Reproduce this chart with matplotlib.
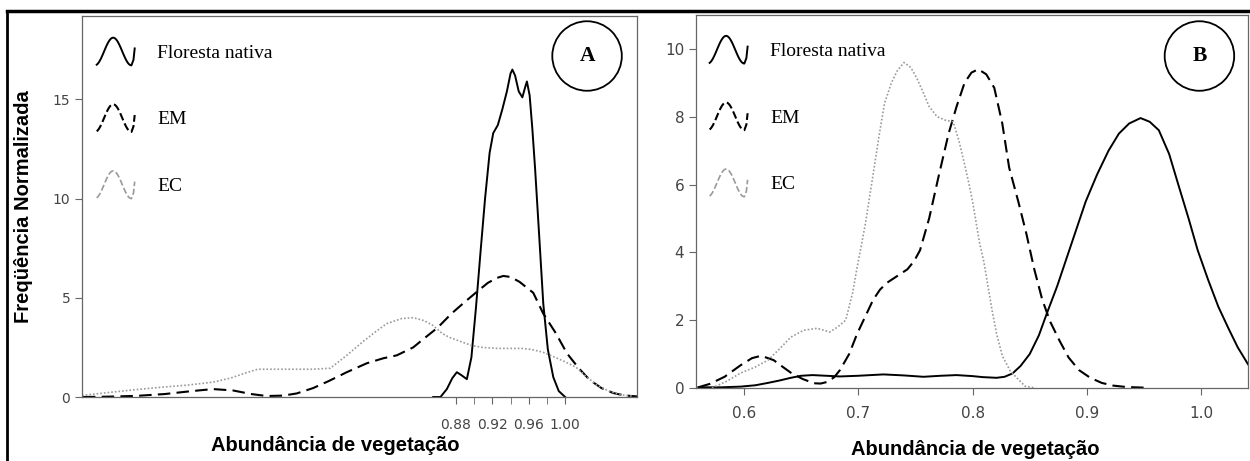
import numpy as np
import matplotlib.pyplot as plt
from matplotlib.lines import Line2D
from matplotlib.legend_handler import HandlerBase

# Painel A - densidades normalizadas
a_nat_x = [0.855, 0.863, 0.870, 0.876, 0.881, 0.886, 0.892, 0.897, 0.902, 0.907, 0.912, 0.917,
           0.921, 0.926, 0.931, 0.936, 0.940, 0.942, 0.945, 0.949, 0.953, 0.956, 0.958, 0.961,
           0.964, 0.967, 0.971, 0.976, 0.981, 0.987, 0.993, 1.000]
a_nat_y = [0.0, 0.0, 0.4, 0.95, 1.25, 1.1, 0.9, 2.0, 4.5, 7.3, 10.0, 12.3,
           13.3, 13.7, 14.5, 15.4, 16.3, 16.5, 16.2, 15.4, 15.1, 15.6, 15.9, 15.2,
           13.5, 11.5, 8.5, 4.7, 2.4, 1.0, 0.3, 0.0]

a_em_x = [0.47, 0.50, 0.53, 0.56, 0.59, 0.613, 0.635, 0.655, 0.672, 0.69, 0.705, 0.723, 0.74,
          0.76, 0.782, 0.80, 0.815, 0.833, 0.845, 0.86, 0.875, 0.89, 0.903, 0.915, 0.925,
          0.932, 0.94, 0.95, 0.965, 0.976, 0.99, 1.002, 1.015, 1.027, 1.04, 1.053, 1.065, 1.079]
a_em_y = [0.0, 0.02, 0.06, 0.15, 0.3, 0.4, 0.33, 0.15, 0.05, 0.07, 0.18, 0.45, 0.8,
          1.25, 1.7, 1.95, 2.1, 2.5, 2.95, 3.5, 4.2, 4.8, 5.3, 5.75, 6.0,
          6.1, 6.05, 5.8, 5.25, 4.2, 3.2, 2.2, 1.45, 0.86, 0.45, 0.2, 0.08, 0.03]

a_ec_x = [0.469, 0.503, 0.53, 0.558, 0.585, 0.613, 0.632, 0.648, 0.662, 0.69, 0.723, 0.742,
          0.76, 0.778, 0.792, 0.804, 0.82, 0.833, 0.845, 0.855, 0.865, 0.873, 0.885, 0.897,
          0.909, 0.925, 0.94, 0.952, 0.963, 0.976, 0.989, 1.001, 1.012, 1.024, 1.035, 1.048,
          1.06, 1.075]
a_ec_y = [0.08, 0.25, 0.38, 0.5, 0.6, 0.75, 0.95, 1.2, 1.4, 1.4, 1.4, 1.45,
          2.1, 2.8, 3.3, 3.7, 3.95, 4.0, 3.85, 3.6, 3.2, 3.0, 2.8, 2.6,
          2.5, 2.45, 2.45, 2.45, 2.4, 2.25, 2.0, 1.75, 1.5, 1.0, 0.6, 0.3,
          0.12, 0.04]

# Painel B
b_nat_x = [0.56, 0.58, 0.597, 0.61, 0.621, 0.631, 0.641, 0.65, 0.66, 0.672, 0.684, 0.70,
           0.722, 0.74, 0.757, 0.772, 0.786, 0.80, 0.809, 0.821, 0.828, 0.835, 0.842, 0.85,
           0.858, 0.865, 0.874, 0.882, 0.891, 0.899, 0.909, 0.919, 0.928, 0.937, 0.947,
           0.955, 0.963, 0.972, 0.98, 0.989, 0.997, 1.006, 1.015, 1.024, 1.032, 1.041]
b_nat_y = [0.02, 0.02, 0.04, 0.08, 0.15, 0.22, 0.3, 0.36, 0.38, 0.36, 0.34, 0.36,
           0.4, 0.37, 0.33, 0.36, 0.38, 0.35, 0.32, 0.3, 0.33, 0.43, 0.65, 1.0,
           1.55, 2.2, 3.0, 3.8, 4.7, 5.5, 6.3, 7.0, 7.5, 7.8, 7.96,
           7.85, 7.6, 6.9, 6.0, 5.0, 4.06, 3.2, 2.4, 1.75, 1.2, 0.7]

b_em_x = [0.56, 0.57, 0.583, 0.597, 0.607, 0.615, 0.626, 0.634, 0.641, 0.651, 0.661, 0.667,
          0.673, 0.679, 0.684, 0.692, 0.699, 0.706, 0.713, 0.719, 0.725, 0.734, 0.743, 0.749,
          0.754, 0.762, 0.77, 0.779, 0.786, 0.793, 0.799, 0.805, 0.812, 0.819, 0.826, 0.832,
          0.84, 0.847, 0.854, 0.861, 0.868, 0.876, 0.884, 0.893, 0.903, 0.913, 0.923, 0.934, 0.95]
b_em_y = [0.02, 0.12, 0.33, 0.67, 0.88, 0.95, 0.82, 0.62, 0.45, 0.27, 0.14, 0.13,
          0.18, 0.32, 0.53, 1.0, 1.6, 2.1, 2.6, 2.9, 3.1, 3.3, 3.5, 3.75,
          4.06, 5.0, 6.2, 7.5, 8.3, 9.0, 9.3, 9.4, 9.25, 8.85, 7.8, 6.5,
          5.5, 4.56, 3.5, 2.6, 1.95, 1.4, 0.9, 0.53, 0.3, 0.15, 0.07, 0.03, 0.01]

b_ec_x = [0.572, 0.585, 0.597, 0.61, 0.621, 0.631, 0.641, 0.652, 0.664, 0.675, 0.682, 0.689,
          0.695, 0.699, 0.706, 0.713, 0.718, 0.723, 0.729, 0.734, 0.74, 0.746, 0.751, 0.757,
          0.762, 0.769, 0.776, 0.783, 0.788, 0.793, 0.797, 0.80, 0.806, 0.81, 0.817, 0.821,
          0.826, 0.833, 0.841, 0.846, 0.855]
b_ec_y = [0.0, 0.2, 0.44, 0.62, 0.82, 1.15, 1.5, 1.7, 1.76, 1.65, 1.8, 2.0,
          2.8, 3.56, 4.8, 6.3, 7.4, 8.4, 9.0, 9.35, 9.6, 9.45, 9.15, 8.7,
          8.3, 8.0, 7.9, 7.85, 7.3, 6.6, 6.0, 5.5, 4.3, 3.7, 2.3, 1.6,
          0.95, 0.5, 0.22, 0.05, 0.0]

labels = ["Floresta nativa", "EM", "EC"]
a_xticks = [0.88, 0.92, 0.96, 1.00]
a_xminor = [0.90, 0.94, 0.98]
a_yticks = [0, 5, 10, 15]
b_xticks = [0.6, 0.7, 0.8, 0.9, 1.0]
b_yticks = [0, 2, 4, 6, 8, 10]


class Squiggle(HandlerBase):
    # simbolo ondulado da legenda, com o estilo da linha
    def create_artists(self, legend, orig, xdescent, ydescent, width, height, fontsize, trans):
        th = np.linspace(-0.4 * np.pi, 1.5 * np.pi, 50)
        xs = (th - th[0]) / (th[-1] - th[0]) * 0.85
        ys = (np.sin(th) + 1) / 2 * 0.85 + 0.08
        # traco final quase vertical, subindo
        xs = np.append(xs, [0.9, 0.93])
        ys = np.append(ys, [0.25, 0.6])
        ln = Line2D(xs * width - xdescent, ys * height - ydescent,
                    color=orig.get_color(), linestyle=orig.get_linestyle(),
                    linewidth=orig.get_linewidth())
        ln.set_transform(trans)
        return [ln]


serif = "Liberation Serif"
sans = "Liberation Sans"
tick_col = "#444444"
spine_col = "#666666"

fig = plt.figure(figsize=(12.5, 4.61), dpi=100)
axA = fig.add_axes([0.0656, 0.1388, 0.444, 0.8265])
axB = fig.add_axes([0.5568, 0.1584, 0.4416, 0.8091])


def draw(ax, nat, em, ec):
    l1, = ax.plot(*nat, color="black", lw=1.4, ls="-")
    l2, = ax.plot(*em, color="black", lw=1.5, ls=(0, (6, 3)))
    l3, = ax.plot(*ec, color="#9a9a9a", lw=1.2, ls=(0, (1, 1.2)))
    for s in ax.spines.values():
        s.set_color(spine_col)
        s.set_linewidth(0.9)
    ax.tick_params(which="both", direction="out", length=5, color=spine_col,
                   labelcolor=tick_col)
    return [l1, l2, l3]


hA = draw(axA, (a_nat_x, a_nat_y), (a_em_x, a_em_y), (a_ec_x, a_ec_y))
axA.set_xlim(0.469, 1.079)
axA.set_ylim(0, 19.2)
axA.set_xticks(a_xticks)
axA.set_xticklabels(["%.2f" % v for v in a_xticks])
axA.set_xticks(a_xminor, minor=True)
axA.set_yticks(a_yticks)
axA.tick_params(labelsize=10)
axA.tick_params(axis="x", pad=10)
axA.set_ylabel("Freqüência Normalizada", fontsize=14.5, fontweight="bold",
               family=sans, labelpad=14)

hB = draw(axB, (b_nat_x, b_nat_y), (b_em_x, b_em_y), (b_ec_x, b_ec_y))
axB.set_xlim(0.558, 1.041)
axB.set_ylim(0, 11)
axB.set_xticks(b_xticks)
axB.set_xticklabels(["%.1f" % v for v in b_xticks])
axB.set_yticks(b_yticks)
axB.tick_params(labelsize=11)
axB.tick_params(axis="x", pad=8)

for ax, h, anchor in [(axA, hA, (-0.005, 0.995)), (axB, hB, (-0.007, 0.997))]:
    ax.legend(h, labels, handler_map={Line2D: Squiggle()}, loc="upper left",
              bbox_to_anchor=anchor, frameon=False, handlelength=2.1, handleheight=2.2,
              handletextpad=1.0, labelspacing=1.75, prop={"family": serif, "size": 14})

for ax, letter, pos in [(axA, "A", (0.91, 0.895)), (axB, "B", (0.912, 0.89))]:
    ax.text(*pos, letter, transform=ax.transAxes, ha="center", va="center",
            family=serif, fontweight="bold", fontsize=15.5,
            bbox=dict(boxstyle="circle,pad=1.15", fc="white", ec="black", lw=1.3))

fig.text(335 / 1250, 1 - 445 / 461, "Abundância de vegetação", ha="center", va="center",
         fontsize=14.5, fontweight="bold", family=sans)
fig.text(975 / 1250, 1 - 449 / 461, "Abundância de vegetação", ha="center", va="center",
         fontsize=14.5, fontweight="bold", family=sans)

# moldura externa
fig.add_artist(Line2D([7 / 1250, 1.0], [1 - 11 / 461] * 2, transform=fig.transFigure,
                      color="black", lw=2.5))
fig.add_artist(Line2D([7 / 1250] * 2, [0, 1 - 11 / 461], transform=fig.transFigure,
                      color="black", lw=2.0))

fig.savefig("out.png", dpi=100)
